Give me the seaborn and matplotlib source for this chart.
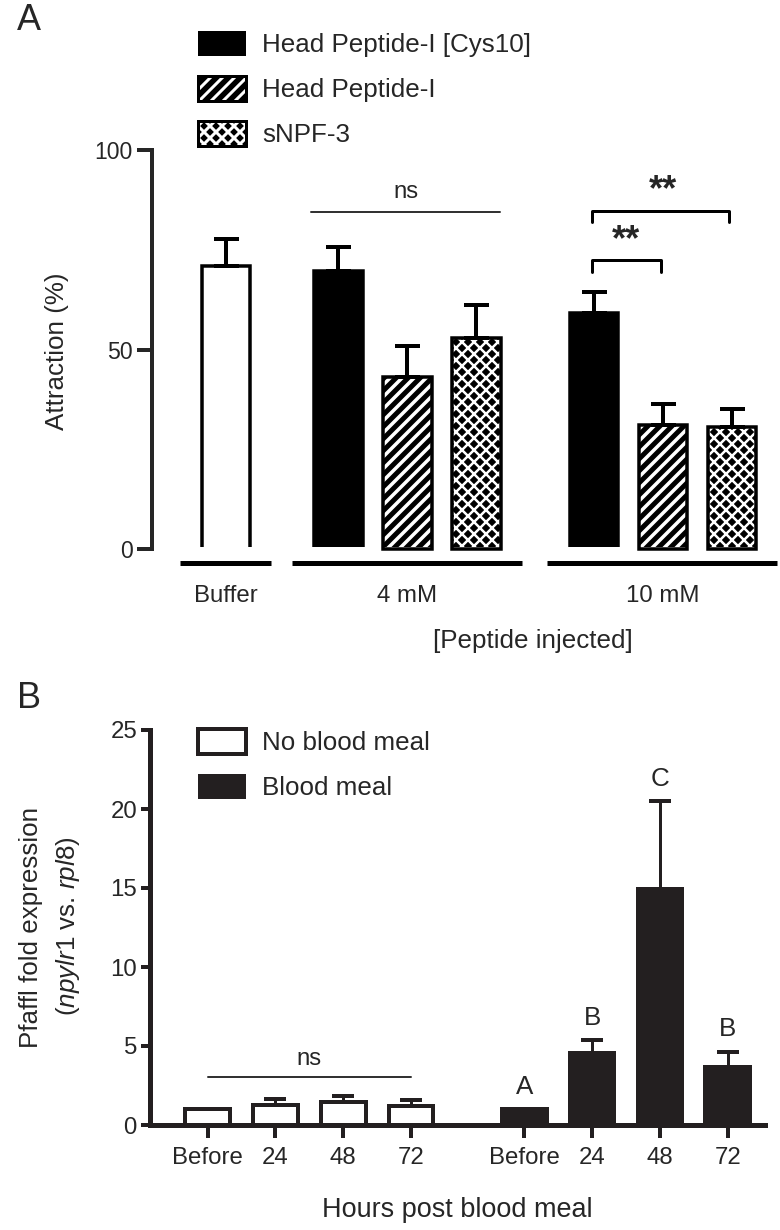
import matplotlib
matplotlib.use('Agg')
import matplotlib.pyplot as plt
import numpy as np
import seaborn as sns
from matplotlib.patches import Patch, Rectangle
from matplotlib.transforms import Bbox, TransformedBbox

sns.set_style('white')
plt.rcParams['font.family'] = ['Liberation Sans', 'DejaVu Sans']
plt.rcParams['mathtext.fontset'] = 'custom'
plt.rcParams['mathtext.rm'] = 'Liberation Sans'
plt.rcParams['mathtext.it'] = 'Liberation Sans:italic'
plt.rcParams['hatch.linewidth'] = 3.0

# Panel A data: attraction (%) after peptide injection
a_groups = ['Buffer', '4 mM', '10 mM']
a_treat = ['Buffer', 'Head Peptide-I [Cys10]', 'Head Peptide-I', 'sNPF-3',
           'Head Peptide-I [Cys10]', 'Head Peptide-I', 'sNPF-3']
a_group_of = ['Buffer', '4 mM', '4 mM', '4 mM', '10 mM', '10 mM', '10 mM']
a_pos = [0, 1.63, 2.63, 3.63, 5.33, 6.33, 7.33]
a_mean = [71.0, 69.7, 43.2, 52.8, 59.2, 31.0, 30.6]
a_sem = [6.6, 5.9, 7.8, 8.4, 5.3, 5.3, 4.4]

# Panel B data: Pfaffl fold expression
b_times = ['Before', '24', '48', '72']
b_pos_none = [0, 1, 2, 3]
b_pos_blood = [4.67, 5.67, 6.67, 7.67]
b_none = [1.0, 1.25, 1.45, 1.2]
b_none_sem = [0.0, 0.4, 0.4, 0.38]
b_blood = [1.0, 4.55, 14.95, 3.65]
b_blood_sem = [0.0, 0.85, 5.55, 1.0]
b_letters = ['A', 'B', 'C', 'B']

W, H = 780, 1230
fig = plt.figure(figsize=(W / 72, H / 72), dpi=72)


def px_axes(left, top, right, bottom):
    return fig.add_axes([left / W, 1 - bottom / H, (right - left) / W, (bottom - top) / H])


# ---------------- Panel A ----------------
axA = px_axes(152, 150, 778, 569)
sns.barplot(x=a_pos, y=a_mean, native_scale=True, width=0.7, color='black',
            errorbar=None, ax=axA)
axA.set_xlim(-1.07, 8.0)
axA.set_ylim(-5, 100)

styles = {'Buffer': ('white', None), 'Head Peptide-I [Cys10]': ('black', None),
          'Head Peptide-I': ('black', '//'), 'sNPF-3': ('black', 'xx')}
hatch_lw = {'//': 3.5, 'xx': 2.5}
bars = sorted(axA.patches, key=lambda p: p.get_x())
clip = TransformedBbox(Bbox([[-2, 0.5], [9, 110]]), axA.transData)
for p, name in zip(bars, a_treat):
    face, hatch = styles[name]
    p.set_facecolor(face)
    if hatch:
        p.set_edgecolor('white')
        p.set_hatch(hatch)
        p.set_linewidth(0)
        if hasattr(p, 'set_hatch_linewidth'):
            p.set_hatch_linewidth(hatch_lw[hatch])
        axA.add_patch(Rectangle(p.get_xy(), p.get_width(), p.get_height(), fill=False,
                                edgecolor='black', linewidth=3.5, clip_box=clip))
    else:
        p.set_edgecolor('black')
        p.set_linewidth(3.5)
    p.set_clip_box(clip)

axA.errorbar(a_pos, a_mean, yerr=[np.zeros(len(a_sem)), a_sem], fmt='none',
             ecolor='black', elinewidth=4, capsize=12.5, capthick=4, zorder=1)

# group underlines
for g in a_groups:
    xs = [x for x, gg in zip(a_pos, a_group_of) if gg == g]
    axA.plot([min(xs) - 0.67, max(xs) + 0.66], [-3.5, -3.5], color='black', lw=5,
             solid_capstyle='butt', clip_on=False)

centers = [np.mean([x for x, gg in zip(a_pos, a_group_of) if gg == g]) for g in a_groups]
axA.set_xticks(centers)
axA.set_xticklabels(a_groups)
axA.set_yticks([0, 50, 100])
axA.tick_params(axis='x', length=0, labelsize=24, pad=16)
axA.tick_params(axis='y', direction='out', length=15, width=4, labelsize=23, pad=4, left=True)
for s in ['top', 'right', 'bottom']:
    axA.spines[s].set_visible(False)
axA.spines['left'].set_linewidth(4)
axA.spines['left'].set_bounds(0, 100)
axA.set_xlabel('')

# significance marks
axA.plot([1.24, 3.97], [84.5, 84.5], color='#333333', lw=2)
axA.text(2.61, 86.8, 'ns', ha='center', va='bottom', fontsize=24)
axA.plot([5.30, 5.30, 7.29, 7.29], [82.0, 84.8, 84.8, 82.0], color='black', lw=3)
axA.text(6.33, 85.5, '**', ha='center', va='bottom', fontsize=36, fontweight='bold')
axA.plot([5.30, 5.30, 6.30, 6.30], [69.4, 72.4, 72.4, 69.4], color='black', lw=3)
axA.text(5.80, 73.0, '**', ha='center', va='bottom', fontsize=36, fontweight='bold')

handles = []
for name in ['Head Peptide-I [Cys10]', 'Head Peptide-I', 'sNPF-3']:
    face, hatch = styles[name]
    if hatch:
        h1 = Patch(facecolor='black', edgecolor='white', hatch=hatch, linewidth=0)
        if hasattr(h1, 'set_hatch_linewidth'):
            h1.set_hatch_linewidth(hatch_lw[hatch])
        h2 = Patch(facecolor='none', edgecolor='black', linewidth=3)
        handles.append((h1, h2))
    else:
        handles.append(Patch(facecolor='black', edgecolor='black', linewidth=0))
fig.legend(handles, ['Head Peptide-I [Cys10]', 'Head Peptide-I', 'sNPF-3'],
           loc='upper left', bbox_to_anchor=(198 / W, 1 - 31 / H), frameon=False,
           fontsize=26, handlelength=1.85, handleheight=1.1, labelspacing=0.72,
           handletextpad=0.62, borderpad=0, borderaxespad=0)

fig.text(17 / W, 1 - 20 / H, 'A', fontsize=36, ha='left', va='center')
fig.text(57 / W, 1 - 351 / H, 'Attraction (%)', fontsize=26, rotation=90,
         ha='center', va='center')
fig.text(533 / W, 1 - 641 / H, '[Peptide injected]', fontsize=26, ha='center', va='center')

# ---------------- Panel B ----------------
dark = '#231f20'
axB = px_axes(150, 730, 765, 1125)
sns.barplot(x=b_pos_none + b_pos_blood, y=b_none + b_blood, native_scale=True,
            width=0.66, color=dark, errorbar=None, ax=axB)
axB.set_xlim(-0.85, 8.22)
axB.set_ylim(0, 25)
barsB = sorted(axB.patches, key=lambda p: p.get_x())
for i, p in enumerate(barsB):
    if i < len(b_none):
        p.set_facecolor('white')
    else:
        p.set_facecolor(dark)
    p.set_edgecolor(dark)
    p.set_linewidth(4)

all_pos = b_pos_none + b_pos_blood
all_mean = b_none + b_blood
all_sem = b_none_sem + b_blood_sem
keep = [i for i, s in enumerate(all_sem) if s > 0]
axB.errorbar([all_pos[i] for i in keep], [all_mean[i] for i in keep],
             yerr=[[0] * len(keep), [all_sem[i] for i in keep]], fmt='none',
             ecolor=dark, elinewidth=3, capsize=11, capthick=4, zorder=1)

for x, m, s, lab in zip(b_pos_blood, b_blood, b_blood_sem, b_letters):
    axB.text(x, m + s + 1.4, lab, ha='center', va='center', fontsize=26)

axB.plot([b_pos_none[0], b_pos_none[-1]], [3.06, 3.06], color='#333333', lw=2)
axB.text(np.mean(b_pos_none), 3.5, 'ns', ha='center', va='bottom', fontsize=24)

axB.set_xticks(all_pos)
axB.set_xticklabels(b_times + b_times)
axB.set_yticks([0, 5, 10, 15, 20, 25])
axB.tick_params(axis='x', direction='out', length=13, width=4, labelsize=24, pad=9,
                bottom=True, color=dark)
axB.tick_params(axis='y', direction='out', length=9, width=4, labelsize=24, pad=4,
                left=True, color=dark)
for s in ['top', 'right']:
    axB.spines[s].set_visible(False)
for s in ['left', 'bottom']:
    axB.spines[s].set_linewidth(5)
    axB.spines[s].set_color(dark)

legB = [Patch(facecolor='white', edgecolor=dark, linewidth=4),
        Patch(facecolor=dark, edgecolor=dark, linewidth=0)]
fig.legend(legB, ['No blood meal', 'Blood meal'], loc='upper left',
           bbox_to_anchor=(198 / W, 1 - 729 / H), frameon=False, fontsize=26,
           handlelength=1.85, handleheight=1.1, labelspacing=0.72,
           handletextpad=0.62, borderpad=0, borderaxespad=0)

fig.text(17 / W, 1 - 698 / H, 'B', fontsize=36, ha='left', va='center')
fig.text(31 / W, 1 - 927 / H, 'Pfaffl fold expression', fontsize=26, rotation=90,
         ha='center', va='center')
fig.text(68 / W, 1 - 926 / H, r'($\mathit{npylr1}$ vs. $\mathit{rpl8}$)', fontsize=26,
         rotation=90, ha='center', va='center')
fig.text(457 / W, 1 - 1210 / H, 'Hours post blood meal', fontsize=27,
         ha='center', va='center')

fig.savefig('out.png', dpi=72)
